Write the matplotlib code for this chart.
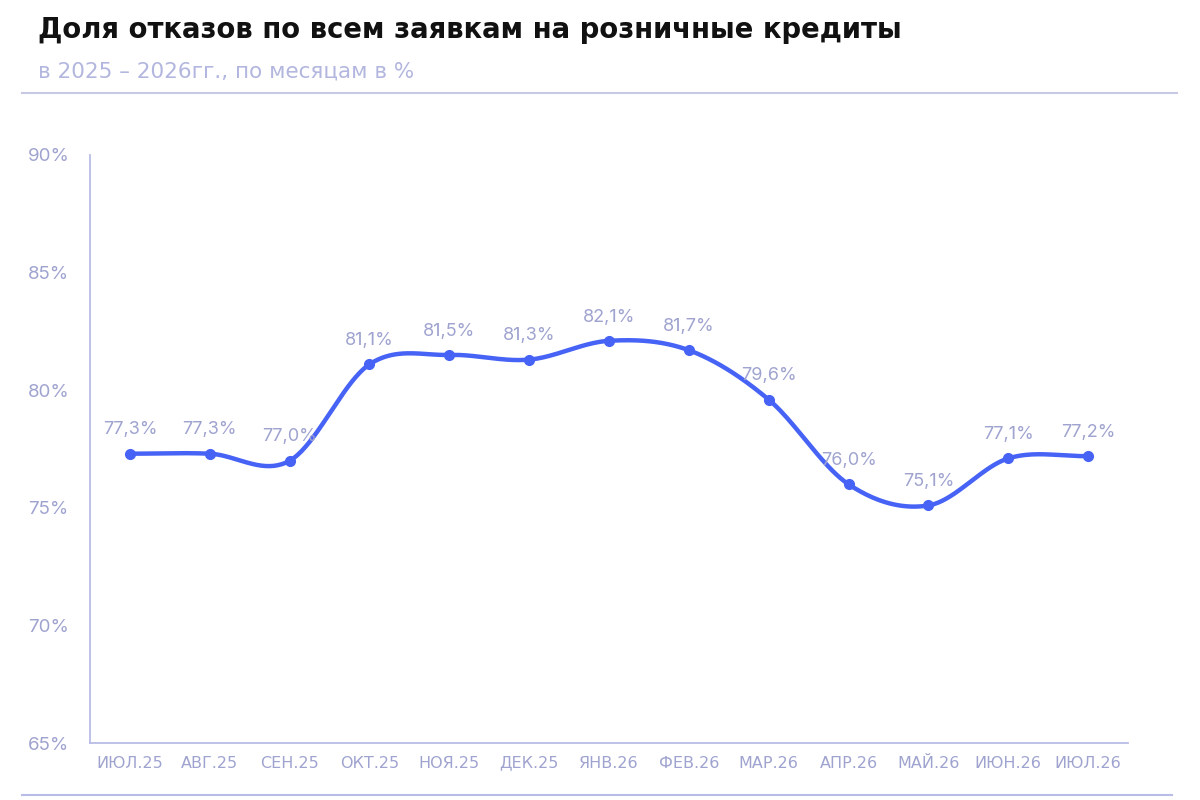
import numpy as np
import matplotlib
matplotlib.use("Agg")
import matplotlib.pyplot as plt
from matplotlib.lines import Line2D

# ---- data ----
months = ["ИЮЛ.25", "АВГ.25", "СЕН.25", "ОКТ.25", "НОЯ.25", "ДЕК.25", "ЯНВ.26",
          "ФЕВ.26", "МАР.26", "АПР.26", "МАЙ.26", "ИЮН.26", "ИЮЛ.26"]
values = [77.3, 77.3, 77.0, 81.1, 81.5, 81.3, 82.1, 81.7, 79.6, 76.0, 75.1, 77.1, 77.2]
y_ticks = [65, 70, 75, 80, 85, 90]
y_ticklabels = ["65%", "70%", "75%", "80%", "85%", "90%"]
title = "Доля отказов по всем заявкам на розничные кредиты"
subtitle = "в 2025 – 2026гг., по месяцам в %"

# ---- style ----
LINE = "#4763f6"
LABEL = "#9fa3cf"
AXIS = "#b9bde6"
RULE = "#c6c8e4"
FONT = ["Inter", "DejaVu Sans"]


def catmull_rom(x, y, n=40):
    x = np.asarray(x, float)
    y = np.asarray(y, float)
    m = np.zeros_like(y)
    m[1:-1] = (y[2:] - y[:-2]) / (x[2:] - x[:-2])
    m[0] = (y[1] - y[0]) / (x[1] - x[0])
    m[-1] = (y[-1] - y[-2]) / (x[-1] - x[-2])
    xs, ys = [], []
    for i in range(len(x) - 1):
        h = x[i + 1] - x[i]
        t = np.linspace(0, 1, n, endpoint=False)
        h00 = 2 * t**3 - 3 * t**2 + 1
        h10 = t**3 - 2 * t**2 + t
        h01 = -2 * t**3 + 3 * t**2
        h11 = t**3 - t**2
        xs.append(x[i] + t * h)
        ys.append(h00 * y[i] + h10 * h * m[i] + h01 * y[i + 1] + h11 * h * m[i + 1])
    xs.append([x[-1]])
    ys.append([y[-1]])
    return np.concatenate(xs), np.concatenate(ys)


fig = plt.figure(figsize=(12, 8), dpi=100)
fig.patch.set_facecolor("white")
W, H = 1200, 800

ax = fig.add_axes([90 / W, 1 - 743 / H, (1128 - 90) / W, (743 - 155) / H])
x = np.arange(len(months))
sx, sy = catmull_rom(x, values)
ax.plot(sx, sy, color=LINE, lw=3.2, solid_capstyle="round", zorder=3)
ax.plot(x, values, "o", color=LINE, ms=7, zorder=4)

for xi, v in zip(x, values):
    ax.annotate(f"{v:.1f}%".replace(".", ","), (xi, v), xytext=(0, 11),
                textcoords="offset points", ha="center", va="bottom",
                color=LABEL, fontsize=13, family=FONT)

ax.set_xlim(-0.5, len(months) - 0.5)
ax.set_ylim(65, 90)
ax.set_yticks(y_ticks)
ax.set_yticklabels(y_ticklabels, ha="left", color=LABEL, fontsize=13.5, family=FONT)
ax.set_xticks(x)
ax.set_xticklabels(months, color=LABEL, fontsize=11.5, family=["DejaVu Sans"])
ax.tick_params(axis="y", length=0, pad=44.5)
ax.tick_params(axis="x", length=0, pad=9)
for s in ["top", "right"]:
    ax.spines[s].set_visible(False)
for s in ["left", "bottom"]:
    ax.spines[s].set_color(AXIS)
    ax.spines[s].set_linewidth(1.3)

# title & subtitle
fig.text(38 / W, 1 - 30 / H, title, fontsize=19.8, fontweight="bold", color="#111111",
         va="center", ha="left", family=["DejaVu Sans"])
fig.text(38 / W, 1 - 72 / H, subtitle, fontsize=15.5, color="#b3b6de",
         va="center", ha="left", family=["DejaVu Sans"])
fig.add_artist(Line2D([22 / W, 1177 / W], [1 - 93 / H, 1 - 93 / H], color=RULE, lw=1.5))
fig.add_artist(Line2D([22 / W, 1172 / W], [1 - 795 / H, 1 - 795 / H], color=AXIS, lw=1.5))

fig.savefig("out.png", dpi=100, facecolor="white")
